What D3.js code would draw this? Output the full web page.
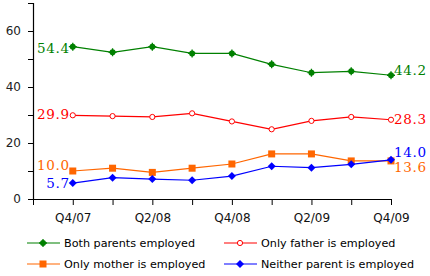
<!DOCTYPE html>
<html lang="en">
<head>
<meta charset="utf-8">
<title>Parents employed</title>
<script src="https://d3js.org/d3.v7.min.js"></script>
<style>
  body { margin: 0; background: #fff; }
</style>
</head>
<body>
<script>
  // data
  var quarters = ["Q4/07", "Q1/08", "Q2/08", "Q3/08", "Q4/08", "Q1/09", "Q2/09", "Q3/09", "Q4/09"];
  var bothParents = [54.4, 52.4, 54.4, 52.0, 52.0, 48.1, 45.1, 45.6, 44.2];
  var onlyFather  = [29.9, 29.6, 29.3, 30.6, 27.7, 24.9, 27.9, 29.3, 28.3];
  var onlyMother  = [10.0, 11.0, 9.5, 11.0, 12.5, 16.1, 16.1, 13.6, 13.6];
  var neither     = [5.7, 7.6, 7.1, 6.7, 8.2, 11.7, 11.2, 12.4, 14.0];
  var yTicks = [0, 10, 20, 30, 40, 50, 60, 70];
  var yLabels = [0, 20, 40, 60];
  var xLabelled = ["Q4/07", "Q2/08", "Q4/08", "Q2/09", "Q4/09"];

  var series = [
    {name: "Both parents employed", values: bothParents, color: "#008000", marker: "plus"},
    {name: "Only father is employed", values: onlyFather, color: "#ff0000", marker: "circle"},
    {name: "Only mother is employed", values: onlyMother, color: "#ff6600", marker: "square"},
    {name: "Neither parent is employed", values: neither, color: "#0000ff", marker: "diamond"}
  ];

  var width = 430, height = 276;
  var svg = d3.select("body").append("svg")
      .attr("width", width).attr("height", height);

  // index -1 is the left edge of the axis, like the Excel original
  var x = d3.scaleLinear().domain([-1, quarters.length - 1]).range([33, 391]);
  var y = d3.scaleLinear().domain([0, 70]).range([199, 3]);

  // y axis
  var yAxis = svg.append("g").attr("transform", "translate(33,0)")
      .call(d3.axisLeft(y).tickValues(yTicks).tickSize(5).tickFormat(function(d) {
        return yLabels.indexOf(d) >= 0 ? d : "";
      }));
  yAxis.select(".domain").attr("stroke", "#000").attr("stroke-width", 1.2);
  yAxis.selectAll("text").attr("font-family", "DejaVu Sans").attr("font-size", 12)
      .attr("fill", "#222").attr("dx", -4);

  // x axis
  var xTickIdx = d3.range(-1, quarters.length);
  var xAxis = svg.append("g").attr("transform", "translate(0,199)")
      .call(d3.axisBottom(x).tickValues(xTickIdx).tickSize(6).tickSizeOuter(0).tickFormat(function(i) {
        var q = quarters[i];
        return q && xLabelled.indexOf(q) >= 0 ? q : "";
      }));
  xAxis.select(".domain").attr("stroke", "#000").attr("stroke-width", 1.2);
  xAxis.selectAll("text").attr("font-family", "DejaVu Sans").attr("font-size", 12)
      .attr("fill", "#111").attr("dy", "1.2em");

  var line = d3.line()
      .x(function(d, i) { return x(i); })
      .y(function(d) { return y(d); });

  function drawMarker(g, kind, color, cx, cy) {
    if (kind === "circle") {
      g.append("circle").attr("cx", cx).attr("cy", cy).attr("r", 2.6)
        .attr("fill", "#fff").attr("stroke", color).attr("stroke-width", 1);
    } else if (kind === "square") {
      g.append("rect").attr("x", cx - 3.5).attr("y", cy - 3.5).attr("width", 7).attr("height", 7)
        .attr("fill", color);
    } else if (kind === "diamond") {
      g.append("path").attr("d", "M" + cx + "," + (cy - 4) + "L" + (cx + 4) + "," + cy +
        "L" + cx + "," + (cy + 4) + "L" + (cx - 4) + "," + cy + "Z").attr("fill", color);
    } else {
      g.append("circle").attr("cx", cx).attr("cy", cy).attr("r", 3).attr("fill", color);
      g.append("path").attr("d", "M" + cx + "," + (cy - 4) + "V" + (cy + 4) + "M" + (cx - 4) + "," + cy + "H" + (cx + 4))
        .attr("stroke", color).attr("stroke-width", 1.3);
    }
  }

  series.forEach(function(s) {
    svg.append("path").datum(s.values)
      .attr("d", line).attr("fill", "none").attr("stroke", s.color).attr("stroke-width", 1.2);
    var g = svg.append("g");
    s.values.forEach(function(v, i) { drawMarker(g, s.marker, s.color, x(i), y(v)); });
  });

  // end labels
  var labelFont = "DejaVu Serif";
  var leftLabels = [
    {text: "54.4", v: bothParents[0], color: "#008000", dy: 2},
    {text: "29.9", v: onlyFather[0], color: "#ff0000", dy: -1},
    {text: "10.0", v: onlyMother[0], color: "#ff6600", dy: -6},
    {text: "5.7", v: neither[0], color: "#0000ff", dy: 0}
  ];
  var last = quarters.length - 1;
  var rightLabels = [
    {text: "44.2", v: bothParents[last], color: "#008000", dy: -5},
    {text: "28.3", v: onlyFather[last], color: "#ff0000", dy: 0},
    {text: "14.0", v: neither[last], color: "#0000ff", dy: -8},
    {text: "13.6", v: onlyMother[last], color: "#ff6600", dy: 6}
  ];
  leftLabels.forEach(function(l) {
    svg.append("text").attr("x", x(0) - 3).attr("y", y(l.v) + l.dy)
      .attr("dy", "0.35em").attr("text-anchor", "end")
      .attr("font-family", labelFont).attr("font-size", 13.5).attr("letter-spacing", 0.7)
      .attr("fill", l.color).text(l.text);
  });
  rightLabels.forEach(function(l) {
    svg.append("text").attr("x", x(last) + 3).attr("y", y(l.v) + l.dy)
      .attr("dy", "0.35em").attr("text-anchor", "start")
      .attr("font-family", labelFont).attr("font-size", 13.5).attr("letter-spacing", 0.7)
      .attr("fill", l.color).text(l.text);
  });

  // legend
  var legendPos = [[27, 243], [224, 243], [27, 264], [224, 264]];
  series.forEach(function(s, i) {
    var p = legendPos[i];
    var g = svg.append("g");
    g.append("line").attr("x1", p[0]).attr("x2", p[0] + 33).attr("y1", p[1]).attr("y2", p[1])
      .attr("stroke", s.color).attr("stroke-width", 1.2);
    drawMarker(g, s.marker, s.color, p[0] + 16, p[1]);
    g.append("text").attr("x", p[0] + 37).attr("y", p[1]).attr("dy", "0.35em")
      .attr("font-family", "DejaVu Sans").attr("font-size", 11.2).attr("fill", "#000")
      .text(s.name);
  });
</script>
</body>
</html>
